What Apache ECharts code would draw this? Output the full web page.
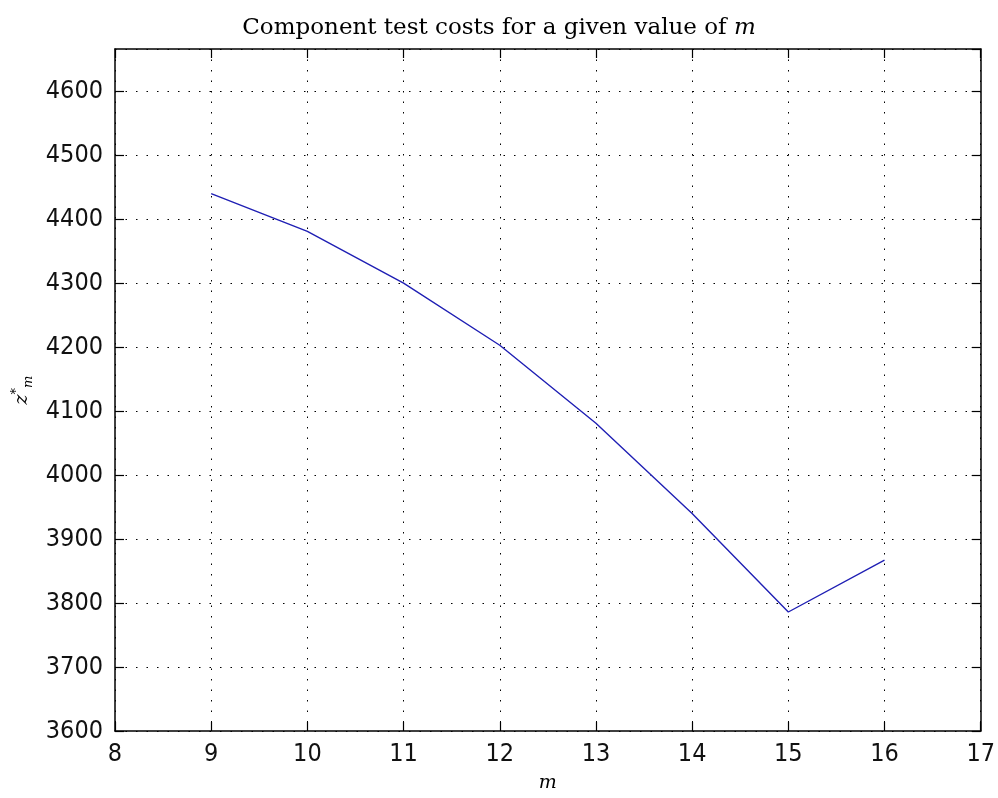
<!DOCTYPE html>
<html>
<head>
<meta charset="utf-8">
<script src="https://cdn.jsdelivr.net/npm/echarts@6/dist/echarts.min.js"></script>
<style>
html,body{margin:0;padding:0;background:#fff;}
#c{width:998px;height:798px;}
</style>
</head>
<body>
<div id="c"></div>
<script>
const titleText = 'Component test costs for a given value of ';
const mValues = [9, 10, 11, 12, 13, 14, 15, 16];
const costValues = [4440, 4381, 4300, 4203, 4081, 3940, 3786, 3867];
const xTicks = [8, 9, 10, 11, 12, 13, 14, 15, 16, 17];
const yTicks = [3600, 3700, 3800, 3900, 4000, 4100, 4200, 4300, 4400, 4500, 4600];

const tickFont = "'Liberation Sans Narrow', 'DejaVu Sans Condensed', 'Arial Narrow', 'Liberation Sans', sans-serif";
const serif = "'DejaVu Serif', 'Liberation Serif', serif";
const gridLine = { show: true, lineStyle: { color: '#000', width: 1, type: [1.5, 9] } };
const axisLine = { show: true, lineStyle: { color: '#000', width: 1.5 } };
const tick = { show: true, inside: true, length: 9, lineStyle: { color: '#000', width: 1.2 } };

const chart = echarts.init(document.getElementById('c'), null, { renderer: 'canvas' });
chart.setOption({
  backgroundColor: '#fff',
  animation: false,
  title: {
    text: titleText + '{i|m}',
    left: 'center',
    top: 12,
    textStyle: {
      fontFamily: serif, fontSize: 23, fontWeight: 'normal', color: '#000',
      rich: { i: { fontFamily: serif, fontStyle: 'italic', fontSize: 23, color: '#000' } }
    }
  },
  grid: { left: 115, right: 14, top: 49, bottom: 66, containLabel: false },
  xAxis: [{
    type: 'value', min: xTicks[0], max: xTicks[xTicks.length - 1], interval: 1,
    position: 'bottom',
    name: 'm', nameLocation: 'middle', nameGap: 43,
    nameTextStyle: { fontFamily: serif, fontStyle: 'italic', fontSize: 19, color: '#000' },
    axisLine: axisLine, axisTick: tick, splitLine: gridLine,
    axisLabel: { fontFamily: tickFont, fontSize: 25, color: '#111', margin: 11, formatter: v => String(v) }
  }, {
    type: 'value', min: xTicks[0], max: xTicks[xTicks.length - 1], interval: 1,
    position: 'top',
    axisLine: axisLine, axisTick: tick, splitLine: { show: false },
    axisLabel: { show: false }
  }],
  yAxis: [{
    type: 'value', min: yTicks[0], max: 4666, interval: 100,
    position: 'left',
    name: '{z|z}{s|*}{m|m}', nameLocation: 'middle', nameGap: 78, nameRotate: 90,
    nameTextStyle: {
      rich: {
        z: { fontFamily: serif, fontStyle: 'italic', fontSize: 19, color: '#000', verticalAlign: 'middle' },
        s: { fontFamily: serif, fontSize: 13, color: '#000', verticalAlign: 'top', padding: [0, 0, 12, 0] },
        m: { fontFamily: serif, fontStyle: 'italic', fontSize: 13, color: '#000', verticalAlign: 'bottom', padding: [10, 0, 0, 0] }
      }
    },
    axisLine: axisLine, axisTick: tick, splitLine: gridLine,
    axisLabel: { fontFamily: tickFont, fontSize: 25, color: '#111', margin: 12, showMaxLabel: false, formatter: v => String(v) }
  }, {
    type: 'value', min: yTicks[0], max: 4666, interval: 100,
    position: 'right',
    axisLine: axisLine, axisTick: tick, splitLine: { show: false },
    axisLabel: { show: false }
  }],
  series: [{
    type: 'line',
    xAxisIndex: 0, yAxisIndex: 0,
    data: mValues.map((m, i) => [m, costValues[i]]),
    showSymbol: false, symbol: 'none',
    lineStyle: { color: '#1f1fb4', width: 1.4 },
    z: 5
  }]
});
</script>
</body>
</html>
